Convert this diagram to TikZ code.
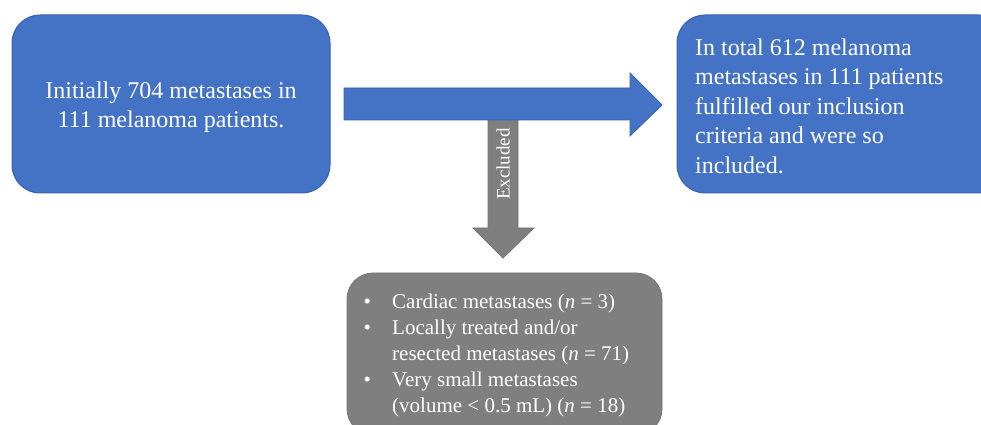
\documentclass[tikz,border=0pt]{standalone}
\usepackage{fontspec}
\setmainfont{Liberation Serif}
\definecolor{boxblue}{HTML}{4472C4}
\definecolor{boxblueline}{HTML}{3A63AE}
\definecolor{boxgray}{HTML}{7F7F7F}
\definecolor{boxgrayline}{HTML}{767676}
\begin{document}
\begin{tikzpicture}[x=1pt,y=1pt,
  bluebox/.style={fill=boxblue, draw=boxblueline, line width=1pt, rounded corners=28pt, inner sep=0pt},
  graybox/.style={fill=boxgray, draw=boxgrayline, line width=0.8pt, rounded corners=26pt, inner sep=0pt},
  bigtext/.style={text=white, inner sep=0pt, font=\fontsize{24}{29.5}\selectfont},
  smalltext/.style={text=white, inner sep=0pt, font=\fontsize{21}{26}\selectfont},
  blockarrow/.style={line width=0.8pt, line join=miter}]
\useasboundingbox (0,0) rectangle (981,425);
\clip (0,0) rectangle (981,425);
\fill[white] (0,0) rectangle (981,425);
% boxes
\node[bluebox, minimum width=318pt, minimum height=178pt] (init) at (171,321) {};
\node[bluebox, minimum width=330pt, minimum height=178pt] (incl) at (842,321) {};
\node[graybox, minimum width=315pt, minimum height=162pt] (excl) at (504.5,71) {};
% gray down arrow
\draw[blockarrow, fill=boxgray, draw=boxgrayline]
  (488,306) -- (488,197) -- (473,197) -- (503,167) -- (534,197) -- (518,197) -- (518,306) -- cycle;
% blue right arrow
\draw[blockarrow, fill=boxblue, draw=boxblueline]
  (344,337) -- (630,337) -- (630,352) -- (662,320) -- (630,289) -- (630,305) -- (344,305) -- cycle;
\node[text=white, rotate=90, inner sep=0pt, font=\fontsize{19}{21}\selectfont] (exlabel) at (503,261) {Excluded};
% texts
\node[bigtext, align=center] (inittext) at (171,318) {Initially 704 metastases in\\111 melanoma patients.};
\node[bigtext, align=left, anchor=west] (incltext) at (695,319) {In total 612 melanoma\\metastases in 111 patients\\fulfilled our inclusion\\criteria and were so\\included.};
\node[smalltext, align=left, anchor=west] (excltext) at (360,70) {%
\makebox[32pt][l]{\,•}Cardiac metastases (\textit{n} = 3)\\
\makebox[32pt][l]{\,•}Locally treated and/or\\
\hspace*{32pt}resected metastases (\textit{n} = 71)\\
\makebox[32pt][l]{\,•}Very small metastases\\
\hspace*{32pt}(volume < 0.5 mL) (\textit{n} = 18)};
\end{tikzpicture}
\end{document}
